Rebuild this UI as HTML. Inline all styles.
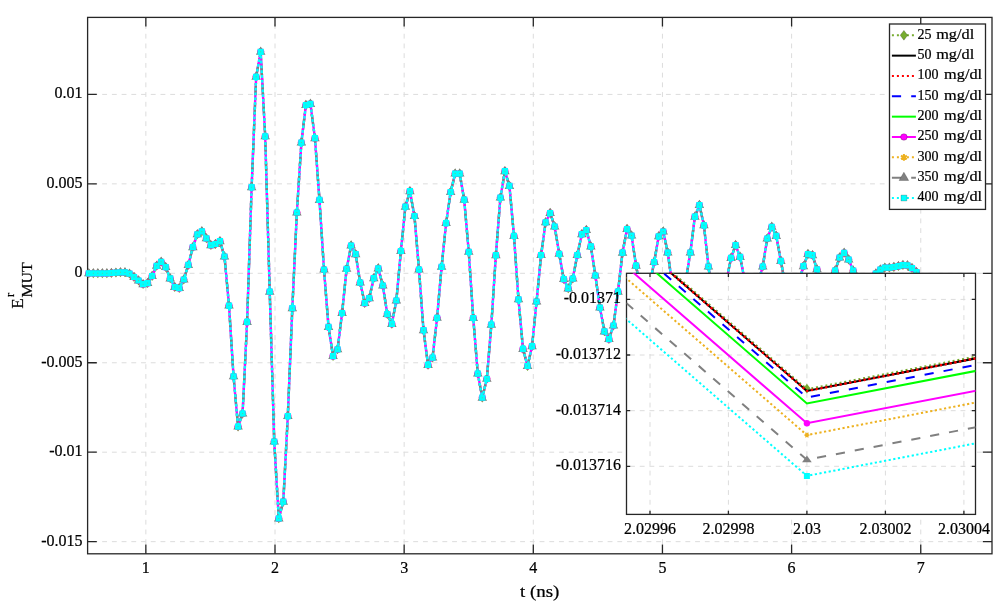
<!DOCTYPE html>
<html><head><meta charset="utf-8"><title>chart</title>
<style>html,body{margin:0;padding:0;background:#fff;}body{width:1006px;height:612px;overflow:hidden;font-family:"Liberation Serif",serif;}svg{display:block;will-change:transform;}</style>
</head><body>
<svg width="1006" height="612" viewBox="0 0 1006 612">
<rect x="0" y="0" width="1006" height="612" fill="#ffffff"/>
<g stroke="#dcdcdc" stroke-width="1" stroke-dasharray="4.86 4.86" fill="none"><line x1="145.85" y1="553.8" x2="145.85" y2="17.4" stroke-dashoffset="0"/><line x1="275" y1="553.8" x2="275" y2="17.4" stroke-dashoffset="0"/><line x1="404.15" y1="553.8" x2="404.15" y2="17.4" stroke-dashoffset="0"/><line x1="533.3" y1="553.8" x2="533.3" y2="17.4" stroke-dashoffset="0"/><line x1="662.45" y1="553.8" x2="662.45" y2="17.4" stroke-dashoffset="0"/><line x1="791.6" y1="553.8" x2="791.6" y2="17.4" stroke-dashoffset="0"/><line x1="920.75" y1="553.8" x2="920.75" y2="17.4" stroke-dashoffset="0"/><line x1="87.6" y1="94.4" x2="992" y2="94.4" stroke-dashoffset="-4.86"/><line x1="87.6" y1="183.85" x2="992" y2="183.85" stroke-dashoffset="-4.86"/><line x1="87.6" y1="273.3" x2="992" y2="273.3" stroke-dashoffset="-4.86"/><line x1="87.6" y1="362.75" x2="992" y2="362.75" stroke-dashoffset="-4.86"/><line x1="87.6" y1="452.2" x2="992" y2="452.2" stroke-dashoffset="-4.86"/><line x1="87.6" y1="541.65" x2="992" y2="541.65" stroke-dashoffset="-4.86"/></g>
<path d="M145.85 553.8v-9.2M145.85 17.4v9.2M275 553.8v-9.2M275 17.4v9.2M404.15 553.8v-9.2M404.15 17.4v9.2M533.3 553.8v-9.2M533.3 17.4v9.2M662.45 553.8v-9.2M662.45 17.4v9.2M791.6 553.8v-9.2M791.6 17.4v9.2M920.75 553.8v-9.2M920.75 17.4v9.2M87.6 94.4h9.2M992 94.4h-9.2M87.6 183.85h9.2M992 183.85h-9.2M87.6 273.3h9.2M992 273.3h-9.2M87.6 362.75h9.2M992 362.75h-9.2M87.6 452.2h9.2M992 452.2h-9.2M87.6 541.65h9.2M992 541.65h-9.2" stroke="#262626" stroke-width="1.3" fill="none"/>
<rect x="87.6" y="17.4" width="904.4" height="536.4" fill="none" stroke="#262626" stroke-width="1.3"/>
<defs><clipPath id="mainclip"><rect x="87.6" y="17.4" width="904.4" height="536.4"/></clipPath></defs>
<polyline clip-path="url(#mainclip)" points="88.8,273.3 93.32,273.3 97.85,273.3 102.37,273.3 106.89,273.3 111.41,273 115.94,272.7 120.46,272.3 124.98,272.4 129.51,273.7 134.03,277 138.55,280.5 143.08,284.2 147.6,283.1 152.12,276 156.64,265.8 161.17,261.8 165.69,267.1 170.21,278.4 174.74,287 179.26,288.1 183.78,279.5 188.31,264.9 192.83,247.2 197.35,234.3 201.88,231.4 206.4,238.3 210.92,245.2 215.44,244 219.97,241.2 224.49,256.5 229.01,305.6 233.54,376.3 238.06,426.6 242.58,413.5 247.1,321.9 251.63,187.2 256.15,76.8 260.67,51.8 265.2,136.3 269.72,291.7 274.24,441.6 278.77,518.4 283.29,501.7 287.81,416.1 292.33,308.2 296.86,212.5 301.38,142.6 305.9,105 310.43,103.9 314.95,138.2 319.47,199.9 324,269.5 328.52,326.9 333.04,356.1 337.56,349.3 342.09,313 346.61,268.8 351.13,245.5 355.66,254.2 360.18,282.6 364.7,303.1 369.23,298.2 373.75,278.2 378.27,268.4 382.8,285.5 387.32,314.1 391.84,323.9 396.36,300.5 400.89,251 405.41,206.7 409.93,191.2 414.46,216 418.98,269.5 423.5,330.2 428.02,364.9 432.55,357.6 437.07,317.8 441.59,266.8 446.12,223.1 450.64,192 455.16,173.6 459.69,173.6 464.21,199.7 468.73,251.8 473.25,318 477.78,373.6 482.3,397.7 486.82,378.8 491.35,324.7 495.87,255.2 500.39,197.6 504.92,171.2 509.44,185.9 513.96,235.9 518.48,299.3 523.01,348.9 527.53,366 532.05,346.2 536.58,301.5 541.1,255 545.62,222.3 550.15,213 554.67,226.5 559.19,253.8 563.71,279.1 568.24,288.4 572.76,278.6 577.28,255.1 581.81,234.2 586.33,230.1 590.85,246.4 595.38,275.5 599.9,307.5 604.42,331.4 608.94,339.1 613.47,325.5 617.99,291.7 622.51,252.7 627.04,229 631.56,235.6 636.08,265.7 640.61,290 645.13,300 649.65,285 654.17,262.1 658.7,236.3 663.22,231.5 667.74,252.5 672.27,285 676.79,305 681.31,300 685.84,280 690.36,252.5 694.88,216.7 699.4,205 703.93,225.3 708.45,266.5 712.97,300 717.5,315 722.02,305 726.54,280 731.07,257.9 735.59,245.1 740.11,256.9 744.63,280 749.16,295 753.68,295 758.2,282 762.73,266.5 767.25,238.5 771.77,226.8 776.3,235.9 780.82,260.9 785.34,285 789.86,300 794.39,295 798.91,282 803.43,266.2 807.96,254.1 812.48,255.2 817,269.3 821.53,285 826.05,290 830.57,283 835.09,270.6 839.62,257.5 844.14,252.9 848.66,259.5 853.19,270.6 857.71,283 862.23,288 866.76,287 871.28,280 875.8,273.6 880.32,269.6 884.85,267.7 889.37,267.7 893.89,267 898.42,266.1 902.94,265.1 907.46,265.4 911.99,268.1 916.51,272.1" fill="none" stroke="#77ac30" stroke-width="2.4" stroke-dasharray="2 3"/>
<path d="M88.8 268.4L92.5 273.3L88.8 278.2L85.1 273.3ZM93.32 268.4L97.02 273.3L93.32 278.2L89.62 273.3ZM97.85 268.4L101.55 273.3L97.85 278.2L94.15 273.3ZM102.37 268.4L106.07 273.3L102.37 278.2L98.67 273.3ZM106.89 268.4L110.59 273.3L106.89 278.2L103.19 273.3ZM111.41 268.1L115.11 273L111.41 277.9L107.71 273ZM115.94 267.8L119.64 272.7L115.94 277.6L112.24 272.7ZM120.46 267.4L124.16 272.3L120.46 277.2L116.76 272.3ZM124.98 267.5L128.68 272.4L124.98 277.3L121.28 272.4ZM129.51 268.8L133.21 273.7L129.51 278.6L125.81 273.7ZM134.03 272.1L137.73 277L134.03 281.9L130.33 277ZM138.55 275.6L142.25 280.5L138.55 285.4L134.85 280.5ZM143.08 279.3L146.78 284.2L143.08 289.1L139.38 284.2ZM147.6 278.2L151.3 283.1L147.6 288L143.9 283.1ZM152.12 271.1L155.82 276L152.12 280.9L148.42 276ZM156.64 260.9L160.34 265.8L156.64 270.7L152.94 265.8ZM161.17 256.9L164.87 261.8L161.17 266.7L157.47 261.8ZM165.69 262.2L169.39 267.1L165.69 272L161.99 267.1ZM170.21 273.5L173.91 278.4L170.21 283.3L166.51 278.4ZM174.74 282.1L178.44 287L174.74 291.9L171.04 287ZM179.26 283.2L182.96 288.1L179.26 293L175.56 288.1ZM183.78 274.6L187.48 279.5L183.78 284.4L180.08 279.5ZM188.31 260L192.01 264.9L188.31 269.8L184.61 264.9ZM192.83 242.3L196.53 247.2L192.83 252.1L189.13 247.2ZM197.35 229.4L201.05 234.3L197.35 239.2L193.65 234.3ZM201.88 226.5L205.57 231.4L201.88 236.3L198.18 231.4ZM206.4 233.4L210.1 238.3L206.4 243.2L202.7 238.3ZM210.92 240.3L214.62 245.2L210.92 250.1L207.22 245.2ZM215.44 239.1L219.14 244L215.44 248.9L211.74 244ZM219.97 236.3L223.67 241.2L219.97 246.1L216.27 241.2ZM224.49 251.6L228.19 256.5L224.49 261.4L220.79 256.5ZM229.01 300.7L232.71 305.6L229.01 310.5L225.31 305.6ZM233.54 371.4L237.24 376.3L233.54 381.2L229.84 376.3ZM238.06 421.7L241.76 426.6L238.06 431.5L234.36 426.6ZM242.58 408.6L246.28 413.5L242.58 418.4L238.88 413.5ZM247.1 317L250.8 321.9L247.1 326.8L243.4 321.9ZM251.63 182.3L255.33 187.2L251.63 192.1L247.93 187.2ZM256.15 71.9L259.85 76.8L256.15 81.7L252.45 76.8ZM260.67 46.9L264.37 51.8L260.67 56.7L256.97 51.8ZM265.2 131.4L268.9 136.3L265.2 141.2L261.5 136.3ZM269.72 286.8L273.42 291.7L269.72 296.6L266.02 291.7ZM274.24 436.7L277.94 441.6L274.24 446.5L270.54 441.6ZM278.77 513.5L282.47 518.4L278.77 523.3L275.07 518.4ZM283.29 496.8L286.99 501.7L283.29 506.6L279.59 501.7ZM287.81 411.2L291.51 416.1L287.81 421L284.11 416.1ZM292.33 303.3L296.03 308.2L292.33 313.1L288.63 308.2ZM296.86 207.6L300.56 212.5L296.86 217.4L293.16 212.5ZM301.38 137.7L305.08 142.6L301.38 147.5L297.68 142.6ZM305.9 100.1L309.6 105L305.9 109.9L302.2 105ZM310.43 99L314.13 103.9L310.43 108.8L306.73 103.9ZM314.95 133.3L318.65 138.2L314.95 143.1L311.25 138.2ZM319.47 195L323.17 199.9L319.47 204.8L315.77 199.9ZM324 264.6L327.7 269.5L324 274.4L320.3 269.5ZM328.52 322L332.22 326.9L328.52 331.8L324.82 326.9ZM333.04 351.2L336.74 356.1L333.04 361L329.34 356.1ZM337.56 344.4L341.26 349.3L337.56 354.2L333.87 349.3ZM342.09 308.1L345.79 313L342.09 317.9L338.39 313ZM346.61 263.9L350.31 268.8L346.61 273.7L342.91 268.8ZM351.13 240.6L354.83 245.5L351.13 250.4L347.43 245.5ZM355.66 249.3L359.36 254.2L355.66 259.1L351.96 254.2ZM360.18 277.7L363.88 282.6L360.18 287.5L356.48 282.6ZM364.7 298.2L368.4 303.1L364.7 308L361 303.1ZM369.23 293.3L372.93 298.2L369.23 303.1L365.53 298.2ZM373.75 273.3L377.45 278.2L373.75 283.1L370.05 278.2ZM378.27 263.5L381.97 268.4L378.27 273.3L374.57 268.4ZM382.8 280.6L386.5 285.5L382.8 290.4L379.1 285.5ZM387.32 309.2L391.02 314.1L387.32 319L383.62 314.1ZM391.84 319L395.54 323.9L391.84 328.8L388.14 323.9ZM396.36 295.6L400.06 300.5L396.36 305.4L392.66 300.5ZM400.89 246.1L404.59 251L400.89 255.9L397.19 251ZM405.41 201.8L409.11 206.7L405.41 211.6L401.71 206.7ZM409.93 186.3L413.63 191.2L409.93 196.1L406.23 191.2ZM414.46 211.1L418.16 216L414.46 220.9L410.76 216ZM418.98 264.6L422.68 269.5L418.98 274.4L415.28 269.5ZM423.5 325.3L427.2 330.2L423.5 335.1L419.8 330.2ZM428.02 360L431.72 364.9L428.02 369.8L424.32 364.9ZM432.55 352.7L436.25 357.6L432.55 362.5L428.85 357.6ZM437.07 312.9L440.77 317.8L437.07 322.7L433.37 317.8ZM441.59 261.9L445.29 266.8L441.59 271.7L437.89 266.8ZM446.12 218.2L449.82 223.1L446.12 228L442.42 223.1ZM450.64 187.1L454.34 192L450.64 196.9L446.94 192ZM455.16 168.7L458.86 173.6L455.16 178.5L451.46 173.6ZM459.69 168.7L463.39 173.6L459.69 178.5L455.99 173.6ZM464.21 194.8L467.91 199.7L464.21 204.6L460.51 199.7ZM468.73 246.9L472.43 251.8L468.73 256.7L465.03 251.8ZM473.25 313.1L476.95 318L473.25 322.9L469.56 318ZM477.78 368.7L481.48 373.6L477.78 378.5L474.08 373.6ZM482.3 392.8L486 397.7L482.3 402.6L478.6 397.7ZM486.82 373.9L490.52 378.8L486.82 383.7L483.12 378.8ZM491.35 319.8L495.05 324.7L491.35 329.6L487.65 324.7ZM495.87 250.3L499.57 255.2L495.87 260.1L492.17 255.2ZM500.39 192.7L504.09 197.6L500.39 202.5L496.69 197.6ZM504.92 166.3L508.62 171.2L504.92 176.1L501.22 171.2ZM509.44 181L513.14 185.9L509.44 190.8L505.74 185.9ZM513.96 231L517.66 235.9L513.96 240.8L510.26 235.9ZM518.48 294.4L522.18 299.3L518.48 304.2L514.78 299.3ZM523.01 344L526.71 348.9L523.01 353.8L519.31 348.9ZM527.53 361.1L531.23 366L527.53 370.9L523.83 366ZM532.05 341.3L535.75 346.2L532.05 351.1L528.35 346.2ZM536.58 296.6L540.28 301.5L536.58 306.4L532.88 301.5ZM541.1 250.1L544.8 255L541.1 259.9L537.4 255ZM545.62 217.4L549.32 222.3L545.62 227.2L541.92 222.3ZM550.15 208.1L553.85 213L550.15 217.9L546.45 213ZM554.67 221.6L558.37 226.5L554.67 231.4L550.97 226.5ZM559.19 248.9L562.89 253.8L559.19 258.7L555.49 253.8ZM563.71 274.2L567.41 279.1L563.71 284L560.01 279.1ZM568.24 283.5L571.94 288.4L568.24 293.3L564.54 288.4ZM572.76 273.7L576.46 278.6L572.76 283.5L569.06 278.6ZM577.28 250.2L580.98 255.1L577.28 260L573.58 255.1ZM581.81 229.3L585.51 234.2L581.81 239.1L578.11 234.2ZM586.33 225.2L590.03 230.1L586.33 235L582.63 230.1ZM590.85 241.5L594.55 246.4L590.85 251.3L587.15 246.4ZM595.38 270.6L599.08 275.5L595.38 280.4L591.68 275.5ZM599.9 302.6L603.6 307.5L599.9 312.4L596.2 307.5ZM604.42 326.5L608.12 331.4L604.42 336.3L600.72 331.4ZM608.94 334.2L612.64 339.1L608.94 344L605.24 339.1ZM613.47 320.6L617.17 325.5L613.47 330.4L609.77 325.5ZM617.99 286.8L621.69 291.7L617.99 296.6L614.29 291.7ZM622.51 247.8L626.21 252.7L622.51 257.6L618.81 252.7ZM627.04 224.1L630.74 229L627.04 233.9L623.34 229ZM631.56 230.7L635.26 235.6L631.56 240.5L627.86 235.6ZM636.08 260.8L639.78 265.7L636.08 270.6L632.38 265.7ZM640.61 285.1L644.31 290L640.61 294.9L636.91 290ZM645.13 295.1L648.83 300L645.13 304.9L641.43 300ZM649.65 280.1L653.35 285L649.65 289.9L645.95 285ZM654.17 257.2L657.88 262.1L654.17 267L650.47 262.1ZM658.7 231.4L662.4 236.3L658.7 241.2L655 236.3ZM663.22 226.6L666.92 231.5L663.22 236.4L659.52 231.5ZM667.74 247.6L671.44 252.5L667.74 257.4L664.04 252.5ZM672.27 280.1L675.97 285L672.27 289.9L668.57 285ZM676.79 300.1L680.49 305L676.79 309.9L673.09 305ZM681.31 295.1L685.01 300L681.31 304.9L677.61 300ZM685.84 275.1L689.54 280L685.84 284.9L682.14 280ZM690.36 247.6L694.06 252.5L690.36 257.4L686.66 252.5ZM694.88 211.8L698.58 216.7L694.88 221.6L691.18 216.7ZM699.4 200.1L703.1 205L699.4 209.9L695.7 205ZM703.93 220.4L707.63 225.3L703.93 230.2L700.23 225.3ZM708.45 261.6L712.15 266.5L708.45 271.4L704.75 266.5ZM712.97 295.1L716.67 300L712.97 304.9L709.27 300ZM717.5 310.1L721.2 315L717.5 319.9L713.8 315ZM722.02 300.1L725.72 305L722.02 309.9L718.32 305ZM726.54 275.1L730.24 280L726.54 284.9L722.84 280ZM731.07 253L734.77 257.9L731.07 262.8L727.37 257.9ZM735.59 240.2L739.29 245.1L735.59 250L731.89 245.1ZM740.11 252L743.81 256.9L740.11 261.8L736.41 256.9ZM744.63 275.1L748.33 280L744.63 284.9L740.93 280ZM749.16 290.1L752.86 295L749.16 299.9L745.46 295ZM753.68 290.1L757.38 295L753.68 299.9L749.98 295ZM758.2 277.1L761.9 282L758.2 286.9L754.5 282ZM762.73 261.6L766.43 266.5L762.73 271.4L759.03 266.5ZM767.25 233.6L770.95 238.5L767.25 243.4L763.55 238.5ZM771.77 221.9L775.47 226.8L771.77 231.7L768.07 226.8ZM776.3 231L780 235.9L776.3 240.8L772.6 235.9ZM780.82 256L784.52 260.9L780.82 265.8L777.12 260.9ZM785.34 280.1L789.04 285L785.34 289.9L781.64 285ZM789.86 295.1L793.56 300L789.86 304.9L786.16 300ZM794.39 290.1L798.09 295L794.39 299.9L790.69 295ZM798.91 277.1L802.61 282L798.91 286.9L795.21 282ZM803.43 261.3L807.13 266.2L803.43 271.1L799.73 266.2ZM807.96 249.2L811.66 254.1L807.96 259L804.26 254.1ZM812.48 250.3L816.18 255.2L812.48 260.1L808.78 255.2ZM817 264.4L820.7 269.3L817 274.2L813.3 269.3ZM821.53 280.1L825.23 285L821.53 289.9L817.83 285ZM826.05 285.1L829.75 290L826.05 294.9L822.35 290ZM830.57 278.1L834.27 283L830.57 287.9L826.87 283ZM835.09 265.7L838.79 270.6L835.09 275.5L831.39 270.6ZM839.62 252.6L843.32 257.5L839.62 262.4L835.92 257.5ZM844.14 248L847.84 252.9L844.14 257.8L840.44 252.9ZM848.66 254.6L852.36 259.5L848.66 264.4L844.96 259.5ZM853.19 265.7L856.89 270.6L853.19 275.5L849.49 270.6ZM857.71 278.1L861.41 283L857.71 287.9L854.01 283ZM862.23 283.1L865.93 288L862.23 292.9L858.53 288ZM866.76 282.1L870.46 287L866.76 291.9L863.06 287ZM871.28 275.1L874.98 280L871.28 284.9L867.58 280ZM875.8 268.7L879.5 273.6L875.8 278.5L872.1 273.6ZM880.32 264.7L884.02 269.6L880.32 274.5L876.62 269.6ZM884.85 262.8L888.55 267.7L884.85 272.6L881.15 267.7ZM889.37 262.8L893.07 267.7L889.37 272.6L885.67 267.7ZM893.89 262.1L897.59 267L893.89 271.9L890.19 267ZM898.42 261.2L902.12 266.1L898.42 271L894.72 266.1ZM902.94 260.2L906.64 265.1L902.94 270L899.24 265.1ZM907.46 260.5L911.16 265.4L907.46 270.3L903.76 265.4ZM911.99 263.2L915.69 268.1L911.99 273L908.29 268.1ZM916.51 267.2L920.21 272.1L916.51 277L912.81 272.1Z" fill="#77ac30"/>
<polyline clip-path="url(#mainclip)" points="88.8,273.3 93.32,273.3 97.85,273.3 102.37,273.3 106.89,273.3 111.41,273 115.94,272.7 120.46,272.3 124.98,272.4 129.51,273.7 134.03,277 138.55,280.5 143.08,284.2 147.6,283.1 152.12,276 156.64,265.8 161.17,261.8 165.69,267.1 170.21,278.4 174.74,287 179.26,288.1 183.78,279.5 188.31,264.9 192.83,247.2 197.35,234.3 201.88,231.4 206.4,238.3 210.92,245.2 215.44,244 219.97,241.2 224.49,256.5 229.01,305.6 233.54,376.3 238.06,426.6 242.58,413.5 247.1,321.9 251.63,187.2 256.15,76.8 260.67,51.8 265.2,136.3 269.72,291.7 274.24,441.6 278.77,518.4 283.29,501.7 287.81,416.1 292.33,308.2 296.86,212.5 301.38,142.6 305.9,105 310.43,103.9 314.95,138.2 319.47,199.9 324,269.5 328.52,326.9 333.04,356.1 337.56,349.3 342.09,313 346.61,268.8 351.13,245.5 355.66,254.2 360.18,282.6 364.7,303.1 369.23,298.2 373.75,278.2 378.27,268.4 382.8,285.5 387.32,314.1 391.84,323.9 396.36,300.5 400.89,251 405.41,206.7 409.93,191.2 414.46,216 418.98,269.5 423.5,330.2 428.02,364.9 432.55,357.6 437.07,317.8 441.59,266.8 446.12,223.1 450.64,192 455.16,173.6 459.69,173.6 464.21,199.7 468.73,251.8 473.25,318 477.78,373.6 482.3,397.7 486.82,378.8 491.35,324.7 495.87,255.2 500.39,197.6 504.92,171.2 509.44,185.9 513.96,235.9 518.48,299.3 523.01,348.9 527.53,366 532.05,346.2 536.58,301.5 541.1,255 545.62,222.3 550.15,213 554.67,226.5 559.19,253.8 563.71,279.1 568.24,288.4 572.76,278.6 577.28,255.1 581.81,234.2 586.33,230.1 590.85,246.4 595.38,275.5 599.9,307.5 604.42,331.4 608.94,339.1 613.47,325.5 617.99,291.7 622.51,252.7 627.04,229 631.56,235.6 636.08,265.7 640.61,290 645.13,300 649.65,285 654.17,262.1 658.7,236.3 663.22,231.5 667.74,252.5 672.27,285 676.79,305 681.31,300 685.84,280 690.36,252.5 694.88,216.7 699.4,205 703.93,225.3 708.45,266.5 712.97,300 717.5,315 722.02,305 726.54,280 731.07,257.9 735.59,245.1 740.11,256.9 744.63,280 749.16,295 753.68,295 758.2,282 762.73,266.5 767.25,238.5 771.77,226.8 776.3,235.9 780.82,260.9 785.34,285 789.86,300 794.39,295 798.91,282 803.43,266.2 807.96,254.1 812.48,255.2 817,269.3 821.53,285 826.05,290 830.57,283 835.09,270.6 839.62,257.5 844.14,252.9 848.66,259.5 853.19,270.6 857.71,283 862.23,288 866.76,287 871.28,280 875.8,273.6 880.32,269.6 884.85,267.7 889.37,267.7 893.89,267 898.42,266.1 902.94,265.1 907.46,265.4 911.99,268.1 916.51,272.1" fill="none" stroke="#ff00ff" stroke-width="2.4" stroke-linejoin="round"/>
<path d="M85.2 273.3a3.6 3.6 0 1 0 7.2 0a3.6 3.6 0 1 0 -7.2 0ZM89.72 273.3a3.6 3.6 0 1 0 7.2 0a3.6 3.6 0 1 0 -7.2 0ZM94.25 273.3a3.6 3.6 0 1 0 7.2 0a3.6 3.6 0 1 0 -7.2 0ZM98.77 273.3a3.6 3.6 0 1 0 7.2 0a3.6 3.6 0 1 0 -7.2 0ZM103.29 273.3a3.6 3.6 0 1 0 7.2 0a3.6 3.6 0 1 0 -7.2 0ZM107.81 273a3.6 3.6 0 1 0 7.2 0a3.6 3.6 0 1 0 -7.2 0ZM112.34 272.7a3.6 3.6 0 1 0 7.2 0a3.6 3.6 0 1 0 -7.2 0ZM116.86 272.3a3.6 3.6 0 1 0 7.2 0a3.6 3.6 0 1 0 -7.2 0ZM121.38 272.4a3.6 3.6 0 1 0 7.2 0a3.6 3.6 0 1 0 -7.2 0ZM125.91 273.7a3.6 3.6 0 1 0 7.2 0a3.6 3.6 0 1 0 -7.2 0ZM130.43 277a3.6 3.6 0 1 0 7.2 0a3.6 3.6 0 1 0 -7.2 0ZM134.95 280.5a3.6 3.6 0 1 0 7.2 0a3.6 3.6 0 1 0 -7.2 0ZM139.48 284.2a3.6 3.6 0 1 0 7.2 0a3.6 3.6 0 1 0 -7.2 0ZM144 283.1a3.6 3.6 0 1 0 7.2 0a3.6 3.6 0 1 0 -7.2 0ZM148.52 276a3.6 3.6 0 1 0 7.2 0a3.6 3.6 0 1 0 -7.2 0ZM153.04 265.8a3.6 3.6 0 1 0 7.2 0a3.6 3.6 0 1 0 -7.2 0ZM157.57 261.8a3.6 3.6 0 1 0 7.2 0a3.6 3.6 0 1 0 -7.2 0ZM162.09 267.1a3.6 3.6 0 1 0 7.2 0a3.6 3.6 0 1 0 -7.2 0ZM166.61 278.4a3.6 3.6 0 1 0 7.2 0a3.6 3.6 0 1 0 -7.2 0ZM171.14 287a3.6 3.6 0 1 0 7.2 0a3.6 3.6 0 1 0 -7.2 0ZM175.66 288.1a3.6 3.6 0 1 0 7.2 0a3.6 3.6 0 1 0 -7.2 0ZM180.18 279.5a3.6 3.6 0 1 0 7.2 0a3.6 3.6 0 1 0 -7.2 0ZM184.71 264.9a3.6 3.6 0 1 0 7.2 0a3.6 3.6 0 1 0 -7.2 0ZM189.23 247.2a3.6 3.6 0 1 0 7.2 0a3.6 3.6 0 1 0 -7.2 0ZM193.75 234.3a3.6 3.6 0 1 0 7.2 0a3.6 3.6 0 1 0 -7.2 0ZM198.28 231.4a3.6 3.6 0 1 0 7.2 0a3.6 3.6 0 1 0 -7.2 0ZM202.8 238.3a3.6 3.6 0 1 0 7.2 0a3.6 3.6 0 1 0 -7.2 0ZM207.32 245.2a3.6 3.6 0 1 0 7.2 0a3.6 3.6 0 1 0 -7.2 0ZM211.84 244a3.6 3.6 0 1 0 7.2 0a3.6 3.6 0 1 0 -7.2 0ZM216.37 241.2a3.6 3.6 0 1 0 7.2 0a3.6 3.6 0 1 0 -7.2 0ZM220.89 256.5a3.6 3.6 0 1 0 7.2 0a3.6 3.6 0 1 0 -7.2 0ZM225.41 305.6a3.6 3.6 0 1 0 7.2 0a3.6 3.6 0 1 0 -7.2 0ZM229.94 376.3a3.6 3.6 0 1 0 7.2 0a3.6 3.6 0 1 0 -7.2 0ZM234.46 426.6a3.6 3.6 0 1 0 7.2 0a3.6 3.6 0 1 0 -7.2 0ZM238.98 413.5a3.6 3.6 0 1 0 7.2 0a3.6 3.6 0 1 0 -7.2 0ZM243.5 321.9a3.6 3.6 0 1 0 7.2 0a3.6 3.6 0 1 0 -7.2 0ZM248.03 187.2a3.6 3.6 0 1 0 7.2 0a3.6 3.6 0 1 0 -7.2 0ZM252.55 76.8a3.6 3.6 0 1 0 7.2 0a3.6 3.6 0 1 0 -7.2 0ZM257.07 51.8a3.6 3.6 0 1 0 7.2 0a3.6 3.6 0 1 0 -7.2 0ZM261.6 136.3a3.6 3.6 0 1 0 7.2 0a3.6 3.6 0 1 0 -7.2 0ZM266.12 291.7a3.6 3.6 0 1 0 7.2 0a3.6 3.6 0 1 0 -7.2 0ZM270.64 441.6a3.6 3.6 0 1 0 7.2 0a3.6 3.6 0 1 0 -7.2 0ZM275.17 518.4a3.6 3.6 0 1 0 7.2 0a3.6 3.6 0 1 0 -7.2 0ZM279.69 501.7a3.6 3.6 0 1 0 7.2 0a3.6 3.6 0 1 0 -7.2 0ZM284.21 416.1a3.6 3.6 0 1 0 7.2 0a3.6 3.6 0 1 0 -7.2 0ZM288.73 308.2a3.6 3.6 0 1 0 7.2 0a3.6 3.6 0 1 0 -7.2 0ZM293.26 212.5a3.6 3.6 0 1 0 7.2 0a3.6 3.6 0 1 0 -7.2 0ZM297.78 142.6a3.6 3.6 0 1 0 7.2 0a3.6 3.6 0 1 0 -7.2 0ZM302.3 105a3.6 3.6 0 1 0 7.2 0a3.6 3.6 0 1 0 -7.2 0ZM306.83 103.9a3.6 3.6 0 1 0 7.2 0a3.6 3.6 0 1 0 -7.2 0ZM311.35 138.2a3.6 3.6 0 1 0 7.2 0a3.6 3.6 0 1 0 -7.2 0ZM315.87 199.9a3.6 3.6 0 1 0 7.2 0a3.6 3.6 0 1 0 -7.2 0ZM320.4 269.5a3.6 3.6 0 1 0 7.2 0a3.6 3.6 0 1 0 -7.2 0ZM324.92 326.9a3.6 3.6 0 1 0 7.2 0a3.6 3.6 0 1 0 -7.2 0ZM329.44 356.1a3.6 3.6 0 1 0 7.2 0a3.6 3.6 0 1 0 -7.2 0ZM333.96 349.3a3.6 3.6 0 1 0 7.2 0a3.6 3.6 0 1 0 -7.2 0ZM338.49 313a3.6 3.6 0 1 0 7.2 0a3.6 3.6 0 1 0 -7.2 0ZM343.01 268.8a3.6 3.6 0 1 0 7.2 0a3.6 3.6 0 1 0 -7.2 0ZM347.53 245.5a3.6 3.6 0 1 0 7.2 0a3.6 3.6 0 1 0 -7.2 0ZM352.06 254.2a3.6 3.6 0 1 0 7.2 0a3.6 3.6 0 1 0 -7.2 0ZM356.58 282.6a3.6 3.6 0 1 0 7.2 0a3.6 3.6 0 1 0 -7.2 0ZM361.1 303.1a3.6 3.6 0 1 0 7.2 0a3.6 3.6 0 1 0 -7.2 0ZM365.63 298.2a3.6 3.6 0 1 0 7.2 0a3.6 3.6 0 1 0 -7.2 0ZM370.15 278.2a3.6 3.6 0 1 0 7.2 0a3.6 3.6 0 1 0 -7.2 0ZM374.67 268.4a3.6 3.6 0 1 0 7.2 0a3.6 3.6 0 1 0 -7.2 0ZM379.19 285.5a3.6 3.6 0 1 0 7.2 0a3.6 3.6 0 1 0 -7.2 0ZM383.72 314.1a3.6 3.6 0 1 0 7.2 0a3.6 3.6 0 1 0 -7.2 0ZM388.24 323.9a3.6 3.6 0 1 0 7.2 0a3.6 3.6 0 1 0 -7.2 0ZM392.76 300.5a3.6 3.6 0 1 0 7.2 0a3.6 3.6 0 1 0 -7.2 0ZM397.29 251a3.6 3.6 0 1 0 7.2 0a3.6 3.6 0 1 0 -7.2 0ZM401.81 206.7a3.6 3.6 0 1 0 7.2 0a3.6 3.6 0 1 0 -7.2 0ZM406.33 191.2a3.6 3.6 0 1 0 7.2 0a3.6 3.6 0 1 0 -7.2 0ZM410.86 216a3.6 3.6 0 1 0 7.2 0a3.6 3.6 0 1 0 -7.2 0ZM415.38 269.5a3.6 3.6 0 1 0 7.2 0a3.6 3.6 0 1 0 -7.2 0ZM419.9 330.2a3.6 3.6 0 1 0 7.2 0a3.6 3.6 0 1 0 -7.2 0ZM424.42 364.9a3.6 3.6 0 1 0 7.2 0a3.6 3.6 0 1 0 -7.2 0ZM428.95 357.6a3.6 3.6 0 1 0 7.2 0a3.6 3.6 0 1 0 -7.2 0ZM433.47 317.8a3.6 3.6 0 1 0 7.2 0a3.6 3.6 0 1 0 -7.2 0ZM437.99 266.8a3.6 3.6 0 1 0 7.2 0a3.6 3.6 0 1 0 -7.2 0ZM442.52 223.1a3.6 3.6 0 1 0 7.2 0a3.6 3.6 0 1 0 -7.2 0ZM447.04 192a3.6 3.6 0 1 0 7.2 0a3.6 3.6 0 1 0 -7.2 0ZM451.56 173.6a3.6 3.6 0 1 0 7.2 0a3.6 3.6 0 1 0 -7.2 0ZM456.09 173.6a3.6 3.6 0 1 0 7.2 0a3.6 3.6 0 1 0 -7.2 0ZM460.61 199.7a3.6 3.6 0 1 0 7.2 0a3.6 3.6 0 1 0 -7.2 0ZM465.13 251.8a3.6 3.6 0 1 0 7.2 0a3.6 3.6 0 1 0 -7.2 0ZM469.65 318a3.6 3.6 0 1 0 7.2 0a3.6 3.6 0 1 0 -7.2 0ZM474.18 373.6a3.6 3.6 0 1 0 7.2 0a3.6 3.6 0 1 0 -7.2 0ZM478.7 397.7a3.6 3.6 0 1 0 7.2 0a3.6 3.6 0 1 0 -7.2 0ZM483.22 378.8a3.6 3.6 0 1 0 7.2 0a3.6 3.6 0 1 0 -7.2 0ZM487.75 324.7a3.6 3.6 0 1 0 7.2 0a3.6 3.6 0 1 0 -7.2 0ZM492.27 255.2a3.6 3.6 0 1 0 7.2 0a3.6 3.6 0 1 0 -7.2 0ZM496.79 197.6a3.6 3.6 0 1 0 7.2 0a3.6 3.6 0 1 0 -7.2 0ZM501.32 171.2a3.6 3.6 0 1 0 7.2 0a3.6 3.6 0 1 0 -7.2 0ZM505.84 185.9a3.6 3.6 0 1 0 7.2 0a3.6 3.6 0 1 0 -7.2 0ZM510.36 235.9a3.6 3.6 0 1 0 7.2 0a3.6 3.6 0 1 0 -7.2 0ZM514.88 299.3a3.6 3.6 0 1 0 7.2 0a3.6 3.6 0 1 0 -7.2 0ZM519.41 348.9a3.6 3.6 0 1 0 7.2 0a3.6 3.6 0 1 0 -7.2 0ZM523.93 366a3.6 3.6 0 1 0 7.2 0a3.6 3.6 0 1 0 -7.2 0ZM528.45 346.2a3.6 3.6 0 1 0 7.2 0a3.6 3.6 0 1 0 -7.2 0ZM532.98 301.5a3.6 3.6 0 1 0 7.2 0a3.6 3.6 0 1 0 -7.2 0ZM537.5 255a3.6 3.6 0 1 0 7.2 0a3.6 3.6 0 1 0 -7.2 0ZM542.02 222.3a3.6 3.6 0 1 0 7.2 0a3.6 3.6 0 1 0 -7.2 0ZM546.55 213a3.6 3.6 0 1 0 7.2 0a3.6 3.6 0 1 0 -7.2 0ZM551.07 226.5a3.6 3.6 0 1 0 7.2 0a3.6 3.6 0 1 0 -7.2 0ZM555.59 253.8a3.6 3.6 0 1 0 7.2 0a3.6 3.6 0 1 0 -7.2 0ZM560.11 279.1a3.6 3.6 0 1 0 7.2 0a3.6 3.6 0 1 0 -7.2 0ZM564.64 288.4a3.6 3.6 0 1 0 7.2 0a3.6 3.6 0 1 0 -7.2 0ZM569.16 278.6a3.6 3.6 0 1 0 7.2 0a3.6 3.6 0 1 0 -7.2 0ZM573.68 255.1a3.6 3.6 0 1 0 7.2 0a3.6 3.6 0 1 0 -7.2 0ZM578.21 234.2a3.6 3.6 0 1 0 7.2 0a3.6 3.6 0 1 0 -7.2 0ZM582.73 230.1a3.6 3.6 0 1 0 7.2 0a3.6 3.6 0 1 0 -7.2 0ZM587.25 246.4a3.6 3.6 0 1 0 7.2 0a3.6 3.6 0 1 0 -7.2 0ZM591.78 275.5a3.6 3.6 0 1 0 7.2 0a3.6 3.6 0 1 0 -7.2 0ZM596.3 307.5a3.6 3.6 0 1 0 7.2 0a3.6 3.6 0 1 0 -7.2 0ZM600.82 331.4a3.6 3.6 0 1 0 7.2 0a3.6 3.6 0 1 0 -7.2 0ZM605.34 339.1a3.6 3.6 0 1 0 7.2 0a3.6 3.6 0 1 0 -7.2 0ZM609.87 325.5a3.6 3.6 0 1 0 7.2 0a3.6 3.6 0 1 0 -7.2 0ZM614.39 291.7a3.6 3.6 0 1 0 7.2 0a3.6 3.6 0 1 0 -7.2 0ZM618.91 252.7a3.6 3.6 0 1 0 7.2 0a3.6 3.6 0 1 0 -7.2 0ZM623.44 229a3.6 3.6 0 1 0 7.2 0a3.6 3.6 0 1 0 -7.2 0ZM627.96 235.6a3.6 3.6 0 1 0 7.2 0a3.6 3.6 0 1 0 -7.2 0ZM632.48 265.7a3.6 3.6 0 1 0 7.2 0a3.6 3.6 0 1 0 -7.2 0ZM637.01 290a3.6 3.6 0 1 0 7.2 0a3.6 3.6 0 1 0 -7.2 0ZM641.53 300a3.6 3.6 0 1 0 7.2 0a3.6 3.6 0 1 0 -7.2 0ZM646.05 285a3.6 3.6 0 1 0 7.2 0a3.6 3.6 0 1 0 -7.2 0ZM650.57 262.1a3.6 3.6 0 1 0 7.2 0a3.6 3.6 0 1 0 -7.2 0ZM655.1 236.3a3.6 3.6 0 1 0 7.2 0a3.6 3.6 0 1 0 -7.2 0ZM659.62 231.5a3.6 3.6 0 1 0 7.2 0a3.6 3.6 0 1 0 -7.2 0ZM664.14 252.5a3.6 3.6 0 1 0 7.2 0a3.6 3.6 0 1 0 -7.2 0ZM668.67 285a3.6 3.6 0 1 0 7.2 0a3.6 3.6 0 1 0 -7.2 0ZM673.19 305a3.6 3.6 0 1 0 7.2 0a3.6 3.6 0 1 0 -7.2 0ZM677.71 300a3.6 3.6 0 1 0 7.2 0a3.6 3.6 0 1 0 -7.2 0ZM682.24 280a3.6 3.6 0 1 0 7.2 0a3.6 3.6 0 1 0 -7.2 0ZM686.76 252.5a3.6 3.6 0 1 0 7.2 0a3.6 3.6 0 1 0 -7.2 0ZM691.28 216.7a3.6 3.6 0 1 0 7.2 0a3.6 3.6 0 1 0 -7.2 0ZM695.8 205a3.6 3.6 0 1 0 7.2 0a3.6 3.6 0 1 0 -7.2 0ZM700.33 225.3a3.6 3.6 0 1 0 7.2 0a3.6 3.6 0 1 0 -7.2 0ZM704.85 266.5a3.6 3.6 0 1 0 7.2 0a3.6 3.6 0 1 0 -7.2 0ZM709.37 300a3.6 3.6 0 1 0 7.2 0a3.6 3.6 0 1 0 -7.2 0ZM713.9 315a3.6 3.6 0 1 0 7.2 0a3.6 3.6 0 1 0 -7.2 0ZM718.42 305a3.6 3.6 0 1 0 7.2 0a3.6 3.6 0 1 0 -7.2 0ZM722.94 280a3.6 3.6 0 1 0 7.2 0a3.6 3.6 0 1 0 -7.2 0ZM727.47 257.9a3.6 3.6 0 1 0 7.2 0a3.6 3.6 0 1 0 -7.2 0ZM731.99 245.1a3.6 3.6 0 1 0 7.2 0a3.6 3.6 0 1 0 -7.2 0ZM736.51 256.9a3.6 3.6 0 1 0 7.2 0a3.6 3.6 0 1 0 -7.2 0ZM741.03 280a3.6 3.6 0 1 0 7.2 0a3.6 3.6 0 1 0 -7.2 0ZM745.56 295a3.6 3.6 0 1 0 7.2 0a3.6 3.6 0 1 0 -7.2 0ZM750.08 295a3.6 3.6 0 1 0 7.2 0a3.6 3.6 0 1 0 -7.2 0ZM754.6 282a3.6 3.6 0 1 0 7.2 0a3.6 3.6 0 1 0 -7.2 0ZM759.13 266.5a3.6 3.6 0 1 0 7.2 0a3.6 3.6 0 1 0 -7.2 0ZM763.65 238.5a3.6 3.6 0 1 0 7.2 0a3.6 3.6 0 1 0 -7.2 0ZM768.17 226.8a3.6 3.6 0 1 0 7.2 0a3.6 3.6 0 1 0 -7.2 0ZM772.7 235.9a3.6 3.6 0 1 0 7.2 0a3.6 3.6 0 1 0 -7.2 0ZM777.22 260.9a3.6 3.6 0 1 0 7.2 0a3.6 3.6 0 1 0 -7.2 0ZM781.74 285a3.6 3.6 0 1 0 7.2 0a3.6 3.6 0 1 0 -7.2 0ZM786.26 300a3.6 3.6 0 1 0 7.2 0a3.6 3.6 0 1 0 -7.2 0ZM790.79 295a3.6 3.6 0 1 0 7.2 0a3.6 3.6 0 1 0 -7.2 0ZM795.31 282a3.6 3.6 0 1 0 7.2 0a3.6 3.6 0 1 0 -7.2 0ZM799.83 266.2a3.6 3.6 0 1 0 7.2 0a3.6 3.6 0 1 0 -7.2 0ZM804.36 254.1a3.6 3.6 0 1 0 7.2 0a3.6 3.6 0 1 0 -7.2 0ZM808.88 255.2a3.6 3.6 0 1 0 7.2 0a3.6 3.6 0 1 0 -7.2 0ZM813.4 269.3a3.6 3.6 0 1 0 7.2 0a3.6 3.6 0 1 0 -7.2 0ZM817.93 285a3.6 3.6 0 1 0 7.2 0a3.6 3.6 0 1 0 -7.2 0ZM822.45 290a3.6 3.6 0 1 0 7.2 0a3.6 3.6 0 1 0 -7.2 0ZM826.97 283a3.6 3.6 0 1 0 7.2 0a3.6 3.6 0 1 0 -7.2 0ZM831.49 270.6a3.6 3.6 0 1 0 7.2 0a3.6 3.6 0 1 0 -7.2 0ZM836.02 257.5a3.6 3.6 0 1 0 7.2 0a3.6 3.6 0 1 0 -7.2 0ZM840.54 252.9a3.6 3.6 0 1 0 7.2 0a3.6 3.6 0 1 0 -7.2 0ZM845.06 259.5a3.6 3.6 0 1 0 7.2 0a3.6 3.6 0 1 0 -7.2 0ZM849.59 270.6a3.6 3.6 0 1 0 7.2 0a3.6 3.6 0 1 0 -7.2 0ZM854.11 283a3.6 3.6 0 1 0 7.2 0a3.6 3.6 0 1 0 -7.2 0ZM858.63 288a3.6 3.6 0 1 0 7.2 0a3.6 3.6 0 1 0 -7.2 0ZM863.16 287a3.6 3.6 0 1 0 7.2 0a3.6 3.6 0 1 0 -7.2 0ZM867.68 280a3.6 3.6 0 1 0 7.2 0a3.6 3.6 0 1 0 -7.2 0ZM872.2 273.6a3.6 3.6 0 1 0 7.2 0a3.6 3.6 0 1 0 -7.2 0ZM876.72 269.6a3.6 3.6 0 1 0 7.2 0a3.6 3.6 0 1 0 -7.2 0ZM881.25 267.7a3.6 3.6 0 1 0 7.2 0a3.6 3.6 0 1 0 -7.2 0ZM885.77 267.7a3.6 3.6 0 1 0 7.2 0a3.6 3.6 0 1 0 -7.2 0ZM890.29 267a3.6 3.6 0 1 0 7.2 0a3.6 3.6 0 1 0 -7.2 0ZM894.82 266.1a3.6 3.6 0 1 0 7.2 0a3.6 3.6 0 1 0 -7.2 0ZM899.34 265.1a3.6 3.6 0 1 0 7.2 0a3.6 3.6 0 1 0 -7.2 0ZM903.86 265.4a3.6 3.6 0 1 0 7.2 0a3.6 3.6 0 1 0 -7.2 0ZM908.39 268.1a3.6 3.6 0 1 0 7.2 0a3.6 3.6 0 1 0 -7.2 0ZM912.91 272.1a3.6 3.6 0 1 0 7.2 0a3.6 3.6 0 1 0 -7.2 0Z" fill="#ff00ff"/>
<polyline clip-path="url(#mainclip)" points="88.8,273.3 93.32,273.3 97.85,273.3 102.37,273.3 106.89,273.3 111.41,273 115.94,272.7 120.46,272.3 124.98,272.4 129.51,273.7 134.03,277 138.55,280.5 143.08,284.2 147.6,283.1 152.12,276 156.64,265.8 161.17,261.8 165.69,267.1 170.21,278.4 174.74,287 179.26,288.1 183.78,279.5 188.31,264.9 192.83,247.2 197.35,234.3 201.88,231.4 206.4,238.3 210.92,245.2 215.44,244 219.97,241.2 224.49,256.5 229.01,305.6 233.54,376.3 238.06,426.6 242.58,413.5 247.1,321.9 251.63,187.2 256.15,76.8 260.67,51.8 265.2,136.3 269.72,291.7 274.24,441.6 278.77,518.4 283.29,501.7 287.81,416.1 292.33,308.2 296.86,212.5 301.38,142.6 305.9,105 310.43,103.9 314.95,138.2 319.47,199.9 324,269.5 328.52,326.9 333.04,356.1 337.56,349.3 342.09,313 346.61,268.8 351.13,245.5 355.66,254.2 360.18,282.6 364.7,303.1 369.23,298.2 373.75,278.2 378.27,268.4 382.8,285.5 387.32,314.1 391.84,323.9 396.36,300.5 400.89,251 405.41,206.7 409.93,191.2 414.46,216 418.98,269.5 423.5,330.2 428.02,364.9 432.55,357.6 437.07,317.8 441.59,266.8 446.12,223.1 450.64,192 455.16,173.6 459.69,173.6 464.21,199.7 468.73,251.8 473.25,318 477.78,373.6 482.3,397.7 486.82,378.8 491.35,324.7 495.87,255.2 500.39,197.6 504.92,171.2 509.44,185.9 513.96,235.9 518.48,299.3 523.01,348.9 527.53,366 532.05,346.2 536.58,301.5 541.1,255 545.62,222.3 550.15,213 554.67,226.5 559.19,253.8 563.71,279.1 568.24,288.4 572.76,278.6 577.28,255.1 581.81,234.2 586.33,230.1 590.85,246.4 595.38,275.5 599.9,307.5 604.42,331.4 608.94,339.1 613.47,325.5 617.99,291.7 622.51,252.7 627.04,229 631.56,235.6 636.08,265.7 640.61,290 645.13,300 649.65,285 654.17,262.1 658.7,236.3 663.22,231.5 667.74,252.5 672.27,285 676.79,305 681.31,300 685.84,280 690.36,252.5 694.88,216.7 699.4,205 703.93,225.3 708.45,266.5 712.97,300 717.5,315 722.02,305 726.54,280 731.07,257.9 735.59,245.1 740.11,256.9 744.63,280 749.16,295 753.68,295 758.2,282 762.73,266.5 767.25,238.5 771.77,226.8 776.3,235.9 780.82,260.9 785.34,285 789.86,300 794.39,295 798.91,282 803.43,266.2 807.96,254.1 812.48,255.2 817,269.3 821.53,285 826.05,290 830.57,283 835.09,270.6 839.62,257.5 844.14,252.9 848.66,259.5 853.19,270.6 857.71,283 862.23,288 866.76,287 871.28,280 875.8,273.6 880.32,269.6 884.85,267.7 889.37,267.7 893.89,267 898.42,266.1 902.94,265.1 907.46,265.4 911.99,268.1 916.51,272.1" fill="none" stroke="#808080" stroke-width="2.4" stroke-dasharray="9.6 9.6"/>
<path d="M88.8 268L93.6 276.3L84 276.3ZM93.32 268L98.12 276.3L88.52 276.3ZM97.85 268L102.65 276.3L93.05 276.3ZM102.37 268L107.17 276.3L97.57 276.3ZM106.89 268L111.69 276.3L102.09 276.3ZM111.41 267.7L116.21 276L106.61 276ZM115.94 267.4L120.74 275.7L111.14 275.7ZM120.46 267L125.26 275.3L115.66 275.3ZM124.98 267.1L129.78 275.4L120.18 275.4ZM129.51 268.4L134.31 276.7L124.71 276.7ZM134.03 271.7L138.83 280L129.23 280ZM138.55 275.2L143.35 283.5L133.75 283.5ZM143.08 278.9L147.88 287.2L138.28 287.2ZM147.6 277.8L152.4 286.1L142.8 286.1ZM152.12 270.7L156.92 279L147.32 279ZM156.64 260.5L161.44 268.8L151.84 268.8ZM161.17 256.5L165.97 264.8L156.37 264.8ZM165.69 261.8L170.49 270.1L160.89 270.1ZM170.21 273.1L175.01 281.4L165.41 281.4ZM174.74 281.7L179.54 290L169.94 290ZM179.26 282.8L184.06 291.1L174.46 291.1ZM183.78 274.2L188.58 282.5L178.98 282.5ZM188.31 259.6L193.11 267.9L183.51 267.9ZM192.83 241.9L197.63 250.2L188.03 250.2ZM197.35 229L202.15 237.3L192.55 237.3ZM201.88 226.1L206.68 234.4L197.07 234.4ZM206.4 233L211.2 241.3L201.6 241.3ZM210.92 239.9L215.72 248.2L206.12 248.2ZM215.44 238.7L220.24 247L210.64 247ZM219.97 235.9L224.77 244.2L215.17 244.2ZM224.49 251.2L229.29 259.5L219.69 259.5ZM229.01 300.3L233.81 308.6L224.21 308.6ZM233.54 371L238.34 379.3L228.74 379.3ZM238.06 421.3L242.86 429.6L233.26 429.6ZM242.58 408.2L247.38 416.5L237.78 416.5ZM247.1 316.6L251.9 324.9L242.3 324.9ZM251.63 181.9L256.43 190.2L246.83 190.2ZM256.15 71.5L260.95 79.8L251.35 79.8ZM260.67 46.5L265.47 54.8L255.87 54.8ZM265.2 131L270 139.3L260.4 139.3ZM269.72 286.4L274.52 294.7L264.92 294.7ZM274.24 436.3L279.04 444.6L269.44 444.6ZM278.77 513.1L283.57 521.4L273.97 521.4ZM283.29 496.4L288.09 504.7L278.49 504.7ZM287.81 410.8L292.61 419.1L283.01 419.1ZM292.33 302.9L297.13 311.2L287.53 311.2ZM296.86 207.2L301.66 215.5L292.06 215.5ZM301.38 137.3L306.18 145.6L296.58 145.6ZM305.9 99.7L310.7 108L301.1 108ZM310.43 98.6L315.23 106.9L305.63 106.9ZM314.95 132.9L319.75 141.2L310.15 141.2ZM319.47 194.6L324.27 202.9L314.67 202.9ZM324 264.2L328.8 272.5L319.2 272.5ZM328.52 321.6L333.32 329.9L323.72 329.9ZM333.04 350.8L337.84 359.1L328.24 359.1ZM337.56 344L342.37 352.3L332.76 352.3ZM342.09 307.7L346.89 316L337.29 316ZM346.61 263.5L351.41 271.8L341.81 271.8ZM351.13 240.2L355.93 248.5L346.33 248.5ZM355.66 248.9L360.46 257.2L350.86 257.2ZM360.18 277.3L364.98 285.6L355.38 285.6ZM364.7 297.8L369.5 306.1L359.9 306.1ZM369.23 292.9L374.03 301.2L364.43 301.2ZM373.75 272.9L378.55 281.2L368.95 281.2ZM378.27 263.1L383.07 271.4L373.47 271.4ZM382.8 280.2L387.6 288.5L378 288.5ZM387.32 308.8L392.12 317.1L382.52 317.1ZM391.84 318.6L396.64 326.9L387.04 326.9ZM396.36 295.2L401.16 303.5L391.56 303.5ZM400.89 245.7L405.69 254L396.09 254ZM405.41 201.4L410.21 209.7L400.61 209.7ZM409.93 185.9L414.73 194.2L405.13 194.2ZM414.46 210.7L419.26 219L409.66 219ZM418.98 264.2L423.78 272.5L414.18 272.5ZM423.5 324.9L428.3 333.2L418.7 333.2ZM428.02 359.6L432.82 367.9L423.22 367.9ZM432.55 352.3L437.35 360.6L427.75 360.6ZM437.07 312.5L441.87 320.8L432.27 320.8ZM441.59 261.5L446.39 269.8L436.79 269.8ZM446.12 217.8L450.92 226.1L441.32 226.1ZM450.64 186.7L455.44 195L445.84 195ZM455.16 168.3L459.96 176.6L450.36 176.6ZM459.69 168.3L464.49 176.6L454.89 176.6ZM464.21 194.4L469.01 202.7L459.41 202.7ZM468.73 246.5L473.53 254.8L463.93 254.8ZM473.25 312.7L478.06 321L468.45 321ZM477.78 368.3L482.58 376.6L472.98 376.6ZM482.3 392.4L487.1 400.7L477.5 400.7ZM486.82 373.5L491.62 381.8L482.02 381.8ZM491.35 319.4L496.15 327.7L486.55 327.7ZM495.87 249.9L500.67 258.2L491.07 258.2ZM500.39 192.3L505.19 200.6L495.59 200.6ZM504.92 165.9L509.72 174.2L500.12 174.2ZM509.44 180.6L514.24 188.9L504.64 188.9ZM513.96 230.6L518.76 238.9L509.16 238.9ZM518.48 294L523.28 302.3L513.68 302.3ZM523.01 343.6L527.81 351.9L518.21 351.9ZM527.53 360.7L532.33 369L522.73 369ZM532.05 340.9L536.85 349.2L527.25 349.2ZM536.58 296.2L541.38 304.5L531.78 304.5ZM541.1 249.7L545.9 258L536.3 258ZM545.62 217L550.42 225.3L540.82 225.3ZM550.15 207.7L554.95 216L545.35 216ZM554.67 221.2L559.47 229.5L549.87 229.5ZM559.19 248.5L563.99 256.8L554.39 256.8ZM563.71 273.8L568.51 282.1L558.91 282.1ZM568.24 283.1L573.04 291.4L563.44 291.4ZM572.76 273.3L577.56 281.6L567.96 281.6ZM577.28 249.8L582.08 258.1L572.48 258.1ZM581.81 228.9L586.61 237.2L577.01 237.2ZM586.33 224.8L591.13 233.1L581.53 233.1ZM590.85 241.1L595.65 249.4L586.05 249.4ZM595.38 270.2L600.18 278.5L590.58 278.5ZM599.9 302.2L604.7 310.5L595.1 310.5ZM604.42 326.1L609.22 334.4L599.62 334.4ZM608.94 333.8L613.74 342.1L604.14 342.1ZM613.47 320.2L618.27 328.5L608.67 328.5ZM617.99 286.4L622.79 294.7L613.19 294.7ZM622.51 247.4L627.31 255.7L617.71 255.7ZM627.04 223.7L631.84 232L622.24 232ZM631.56 230.3L636.36 238.6L626.76 238.6ZM636.08 260.4L640.88 268.7L631.28 268.7ZM640.61 284.7L645.41 293L635.81 293ZM645.13 294.7L649.93 303L640.33 303ZM649.65 279.7L654.45 288L644.85 288ZM654.17 256.8L658.97 265.1L649.38 265.1ZM658.7 231L663.5 239.3L653.9 239.3ZM663.22 226.2L668.02 234.5L658.42 234.5ZM667.74 247.2L672.54 255.5L662.94 255.5ZM672.27 279.7L677.07 288L667.47 288ZM676.79 299.7L681.59 308L671.99 308ZM681.31 294.7L686.11 303L676.51 303ZM685.84 274.7L690.64 283L681.04 283ZM690.36 247.2L695.16 255.5L685.56 255.5ZM694.88 211.4L699.68 219.7L690.08 219.7ZM699.4 199.7L704.2 208L694.6 208ZM703.93 220L708.73 228.3L699.13 228.3ZM708.45 261.2L713.25 269.5L703.65 269.5ZM712.97 294.7L717.77 303L708.17 303ZM717.5 309.7L722.3 318L712.7 318ZM722.02 299.7L726.82 308L717.22 308ZM726.54 274.7L731.34 283L721.74 283ZM731.07 252.6L735.87 260.9L726.27 260.9ZM735.59 239.8L740.39 248.1L730.79 248.1ZM740.11 251.6L744.91 259.9L735.31 259.9ZM744.63 274.7L749.43 283L739.83 283ZM749.16 289.7L753.96 298L744.36 298ZM753.68 289.7L758.48 298L748.88 298ZM758.2 276.7L763 285L753.4 285ZM762.73 261.2L767.53 269.5L757.93 269.5ZM767.25 233.2L772.05 241.5L762.45 241.5ZM771.77 221.5L776.57 229.8L766.97 229.8ZM776.3 230.6L781.1 238.9L771.5 238.9ZM780.82 255.6L785.62 263.9L776.02 263.9ZM785.34 279.7L790.14 288L780.54 288ZM789.86 294.7L794.66 303L785.06 303ZM794.39 289.7L799.19 298L789.59 298ZM798.91 276.7L803.71 285L794.11 285ZM803.43 260.9L808.23 269.2L798.63 269.2ZM807.96 248.8L812.76 257.1L803.16 257.1ZM812.48 249.9L817.28 258.2L807.68 258.2ZM817 264L821.8 272.3L812.2 272.3ZM821.53 279.7L826.33 288L816.73 288ZM826.05 284.7L830.85 293L821.25 293ZM830.57 277.7L835.37 286L825.77 286ZM835.09 265.3L839.89 273.6L830.29 273.6ZM839.62 252.2L844.42 260.5L834.82 260.5ZM844.14 247.6L848.94 255.9L839.34 255.9ZM848.66 254.2L853.46 262.5L843.86 262.5ZM853.19 265.3L857.99 273.6L848.39 273.6ZM857.71 277.7L862.51 286L852.91 286ZM862.23 282.7L867.03 291L857.43 291ZM866.76 281.7L871.56 290L861.96 290ZM871.28 274.7L876.08 283L866.48 283ZM875.8 268.3L880.6 276.6L871 276.6ZM880.32 264.3L885.12 272.6L875.52 272.6ZM884.85 262.4L889.65 270.7L880.05 270.7ZM889.37 262.4L894.17 270.7L884.57 270.7ZM893.89 261.7L898.69 270L889.09 270ZM898.42 260.8L903.22 269.1L893.62 269.1ZM902.94 259.8L907.74 268.1L898.14 268.1ZM907.46 260.1L912.26 268.4L902.66 268.4ZM911.99 262.8L916.79 271.1L907.19 271.1ZM916.51 266.8L921.31 275.1L911.71 275.1Z" fill="#808080"/>
<polyline clip-path="url(#mainclip)" points="88.8,273.3 93.32,273.3 97.85,273.3 102.37,273.3 106.89,273.3 111.41,273 115.94,272.7 120.46,272.3 124.98,272.4 129.51,273.7 134.03,277 138.55,280.5 143.08,284.2 147.6,283.1 152.12,276 156.64,265.8 161.17,261.8 165.69,267.1 170.21,278.4 174.74,287 179.26,288.1 183.78,279.5 188.31,264.9 192.83,247.2 197.35,234.3 201.88,231.4 206.4,238.3 210.92,245.2 215.44,244 219.97,241.2 224.49,256.5 229.01,305.6 233.54,376.3 238.06,426.6 242.58,413.5 247.1,321.9 251.63,187.2 256.15,76.8 260.67,51.8 265.2,136.3 269.72,291.7 274.24,441.6 278.77,518.4 283.29,501.7 287.81,416.1 292.33,308.2 296.86,212.5 301.38,142.6 305.9,105 310.43,103.9 314.95,138.2 319.47,199.9 324,269.5 328.52,326.9 333.04,356.1 337.56,349.3 342.09,313 346.61,268.8 351.13,245.5 355.66,254.2 360.18,282.6 364.7,303.1 369.23,298.2 373.75,278.2 378.27,268.4 382.8,285.5 387.32,314.1 391.84,323.9 396.36,300.5 400.89,251 405.41,206.7 409.93,191.2 414.46,216 418.98,269.5 423.5,330.2 428.02,364.9 432.55,357.6 437.07,317.8 441.59,266.8 446.12,223.1 450.64,192 455.16,173.6 459.69,173.6 464.21,199.7 468.73,251.8 473.25,318 477.78,373.6 482.3,397.7 486.82,378.8 491.35,324.7 495.87,255.2 500.39,197.6 504.92,171.2 509.44,185.9 513.96,235.9 518.48,299.3 523.01,348.9 527.53,366 532.05,346.2 536.58,301.5 541.1,255 545.62,222.3 550.15,213 554.67,226.5 559.19,253.8 563.71,279.1 568.24,288.4 572.76,278.6 577.28,255.1 581.81,234.2 586.33,230.1 590.85,246.4 595.38,275.5 599.9,307.5 604.42,331.4 608.94,339.1 613.47,325.5 617.99,291.7 622.51,252.7 627.04,229 631.56,235.6 636.08,265.7 640.61,290 645.13,300 649.65,285 654.17,262.1 658.7,236.3 663.22,231.5 667.74,252.5 672.27,285 676.79,305 681.31,300 685.84,280 690.36,252.5 694.88,216.7 699.4,205 703.93,225.3 708.45,266.5 712.97,300 717.5,315 722.02,305 726.54,280 731.07,257.9 735.59,245.1 740.11,256.9 744.63,280 749.16,295 753.68,295 758.2,282 762.73,266.5 767.25,238.5 771.77,226.8 776.3,235.9 780.82,260.9 785.34,285 789.86,300 794.39,295 798.91,282 803.43,266.2 807.96,254.1 812.48,255.2 817,269.3 821.53,285 826.05,290 830.57,283 835.09,270.6 839.62,257.5 844.14,252.9 848.66,259.5 853.19,270.6 857.71,283 862.23,288 866.76,287 871.28,280 875.8,273.6 880.32,269.6 884.85,267.7 889.37,267.7 893.89,267 898.42,266.1 902.94,265.1 907.46,265.4 911.99,268.1 916.51,272.1" fill="none" stroke="#00ffff" stroke-width="2.4" stroke-dasharray="2.8 2.0"/>
<path d="M85.7 270.2h6.2v6.2h-6.2ZM90.22 270.2h6.2v6.2h-6.2ZM94.75 270.2h6.2v6.2h-6.2ZM99.27 270.2h6.2v6.2h-6.2ZM103.79 270.2h6.2v6.2h-6.2ZM108.31 269.9h6.2v6.2h-6.2ZM112.84 269.6h6.2v6.2h-6.2ZM117.36 269.2h6.2v6.2h-6.2ZM121.88 269.3h6.2v6.2h-6.2ZM126.41 270.6h6.2v6.2h-6.2ZM130.93 273.9h6.2v6.2h-6.2ZM135.45 277.4h6.2v6.2h-6.2ZM139.98 281.1h6.2v6.2h-6.2ZM144.5 280h6.2v6.2h-6.2ZM149.02 272.9h6.2v6.2h-6.2ZM153.54 262.7h6.2v6.2h-6.2ZM158.07 258.7h6.2v6.2h-6.2ZM162.59 264h6.2v6.2h-6.2ZM167.11 275.3h6.2v6.2h-6.2ZM171.64 283.9h6.2v6.2h-6.2ZM176.16 285h6.2v6.2h-6.2ZM180.68 276.4h6.2v6.2h-6.2ZM185.21 261.8h6.2v6.2h-6.2ZM189.73 244.1h6.2v6.2h-6.2ZM194.25 231.2h6.2v6.2h-6.2ZM198.78 228.3h6.2v6.2h-6.2ZM203.3 235.2h6.2v6.2h-6.2ZM207.82 242.1h6.2v6.2h-6.2ZM212.34 240.9h6.2v6.2h-6.2ZM216.87 238.1h6.2v6.2h-6.2ZM221.39 253.4h6.2v6.2h-6.2ZM225.91 302.5h6.2v6.2h-6.2ZM230.44 373.2h6.2v6.2h-6.2ZM234.96 423.5h6.2v6.2h-6.2ZM239.48 410.4h6.2v6.2h-6.2ZM244 318.8h6.2v6.2h-6.2ZM248.53 184.1h6.2v6.2h-6.2ZM253.05 73.7h6.2v6.2h-6.2ZM257.57 48.7h6.2v6.2h-6.2ZM262.1 133.2h6.2v6.2h-6.2ZM266.62 288.6h6.2v6.2h-6.2ZM271.14 438.5h6.2v6.2h-6.2ZM275.67 515.3h6.2v6.2h-6.2ZM280.19 498.6h6.2v6.2h-6.2ZM284.71 413h6.2v6.2h-6.2ZM289.23 305.1h6.2v6.2h-6.2ZM293.76 209.4h6.2v6.2h-6.2ZM298.28 139.5h6.2v6.2h-6.2ZM302.8 101.9h6.2v6.2h-6.2ZM307.33 100.8h6.2v6.2h-6.2ZM311.85 135.1h6.2v6.2h-6.2ZM316.37 196.8h6.2v6.2h-6.2ZM320.9 266.4h6.2v6.2h-6.2ZM325.42 323.8h6.2v6.2h-6.2ZM329.94 353h6.2v6.2h-6.2ZM334.46 346.2h6.2v6.2h-6.2ZM338.99 309.9h6.2v6.2h-6.2ZM343.51 265.7h6.2v6.2h-6.2ZM348.03 242.4h6.2v6.2h-6.2ZM352.56 251.1h6.2v6.2h-6.2ZM357.08 279.5h6.2v6.2h-6.2ZM361.6 300h6.2v6.2h-6.2ZM366.13 295.1h6.2v6.2h-6.2ZM370.65 275.1h6.2v6.2h-6.2ZM375.17 265.3h6.2v6.2h-6.2ZM379.69 282.4h6.2v6.2h-6.2ZM384.22 311h6.2v6.2h-6.2ZM388.74 320.8h6.2v6.2h-6.2ZM393.26 297.4h6.2v6.2h-6.2ZM397.79 247.9h6.2v6.2h-6.2ZM402.31 203.6h6.2v6.2h-6.2ZM406.83 188.1h6.2v6.2h-6.2ZM411.36 212.9h6.2v6.2h-6.2ZM415.88 266.4h6.2v6.2h-6.2ZM420.4 327.1h6.2v6.2h-6.2ZM424.92 361.8h6.2v6.2h-6.2ZM429.45 354.5h6.2v6.2h-6.2ZM433.97 314.7h6.2v6.2h-6.2ZM438.49 263.7h6.2v6.2h-6.2ZM443.02 220h6.2v6.2h-6.2ZM447.54 188.9h6.2v6.2h-6.2ZM452.06 170.5h6.2v6.2h-6.2ZM456.59 170.5h6.2v6.2h-6.2ZM461.11 196.6h6.2v6.2h-6.2ZM465.63 248.7h6.2v6.2h-6.2ZM470.15 314.9h6.2v6.2h-6.2ZM474.68 370.5h6.2v6.2h-6.2ZM479.2 394.6h6.2v6.2h-6.2ZM483.72 375.7h6.2v6.2h-6.2ZM488.25 321.6h6.2v6.2h-6.2ZM492.77 252.1h6.2v6.2h-6.2ZM497.29 194.5h6.2v6.2h-6.2ZM501.82 168.1h6.2v6.2h-6.2ZM506.34 182.8h6.2v6.2h-6.2ZM510.86 232.8h6.2v6.2h-6.2ZM515.38 296.2h6.2v6.2h-6.2ZM519.91 345.8h6.2v6.2h-6.2ZM524.43 362.9h6.2v6.2h-6.2ZM528.95 343.1h6.2v6.2h-6.2ZM533.48 298.4h6.2v6.2h-6.2ZM538 251.9h6.2v6.2h-6.2ZM542.52 219.2h6.2v6.2h-6.2ZM547.05 209.9h6.2v6.2h-6.2ZM551.57 223.4h6.2v6.2h-6.2ZM556.09 250.7h6.2v6.2h-6.2ZM560.61 276h6.2v6.2h-6.2ZM565.14 285.3h6.2v6.2h-6.2ZM569.66 275.5h6.2v6.2h-6.2ZM574.18 252h6.2v6.2h-6.2ZM578.71 231.1h6.2v6.2h-6.2ZM583.23 227h6.2v6.2h-6.2ZM587.75 243.3h6.2v6.2h-6.2ZM592.28 272.4h6.2v6.2h-6.2ZM596.8 304.4h6.2v6.2h-6.2ZM601.32 328.3h6.2v6.2h-6.2ZM605.84 336h6.2v6.2h-6.2ZM610.37 322.4h6.2v6.2h-6.2ZM614.89 288.6h6.2v6.2h-6.2ZM619.41 249.6h6.2v6.2h-6.2ZM623.94 225.9h6.2v6.2h-6.2ZM628.46 232.5h6.2v6.2h-6.2ZM632.98 262.6h6.2v6.2h-6.2ZM637.51 286.9h6.2v6.2h-6.2ZM642.03 296.9h6.2v6.2h-6.2ZM646.55 281.9h6.2v6.2h-6.2ZM651.07 259h6.2v6.2h-6.2ZM655.6 233.2h6.2v6.2h-6.2ZM660.12 228.4h6.2v6.2h-6.2ZM664.64 249.4h6.2v6.2h-6.2ZM669.17 281.9h6.2v6.2h-6.2ZM673.69 301.9h6.2v6.2h-6.2ZM678.21 296.9h6.2v6.2h-6.2ZM682.74 276.9h6.2v6.2h-6.2ZM687.26 249.4h6.2v6.2h-6.2ZM691.78 213.6h6.2v6.2h-6.2ZM696.3 201.9h6.2v6.2h-6.2ZM700.83 222.2h6.2v6.2h-6.2ZM705.35 263.4h6.2v6.2h-6.2ZM709.87 296.9h6.2v6.2h-6.2ZM714.4 311.9h6.2v6.2h-6.2ZM718.92 301.9h6.2v6.2h-6.2ZM723.44 276.9h6.2v6.2h-6.2ZM727.97 254.8h6.2v6.2h-6.2ZM732.49 242h6.2v6.2h-6.2ZM737.01 253.8h6.2v6.2h-6.2ZM741.53 276.9h6.2v6.2h-6.2ZM746.06 291.9h6.2v6.2h-6.2ZM750.58 291.9h6.2v6.2h-6.2ZM755.1 278.9h6.2v6.2h-6.2ZM759.63 263.4h6.2v6.2h-6.2ZM764.15 235.4h6.2v6.2h-6.2ZM768.67 223.7h6.2v6.2h-6.2ZM773.2 232.8h6.2v6.2h-6.2ZM777.72 257.8h6.2v6.2h-6.2ZM782.24 281.9h6.2v6.2h-6.2ZM786.76 296.9h6.2v6.2h-6.2ZM791.29 291.9h6.2v6.2h-6.2ZM795.81 278.9h6.2v6.2h-6.2ZM800.33 263.1h6.2v6.2h-6.2ZM804.86 251h6.2v6.2h-6.2ZM809.38 252.1h6.2v6.2h-6.2ZM813.9 266.2h6.2v6.2h-6.2ZM818.43 281.9h6.2v6.2h-6.2ZM822.95 286.9h6.2v6.2h-6.2ZM827.47 279.9h6.2v6.2h-6.2ZM831.99 267.5h6.2v6.2h-6.2ZM836.52 254.4h6.2v6.2h-6.2ZM841.04 249.8h6.2v6.2h-6.2ZM845.56 256.4h6.2v6.2h-6.2ZM850.09 267.5h6.2v6.2h-6.2ZM854.61 279.9h6.2v6.2h-6.2ZM859.13 284.9h6.2v6.2h-6.2ZM863.66 283.9h6.2v6.2h-6.2ZM868.18 276.9h6.2v6.2h-6.2ZM872.7 270.5h6.2v6.2h-6.2ZM877.22 266.5h6.2v6.2h-6.2ZM881.75 264.6h6.2v6.2h-6.2ZM886.27 264.6h6.2v6.2h-6.2ZM890.79 263.9h6.2v6.2h-6.2ZM895.32 263h6.2v6.2h-6.2ZM899.84 262h6.2v6.2h-6.2ZM904.36 262.3h6.2v6.2h-6.2ZM908.89 265h6.2v6.2h-6.2ZM913.41 269h6.2v6.2h-6.2Z" fill="#00ffff"/>
<path d="M88.3 272.8h1v1h-1ZM92.82 272.8h1v1h-1ZM97.35 272.8h1v1h-1ZM101.87 272.8h1v1h-1ZM106.39 272.8h1v1h-1ZM110.91 272.5h1v1h-1ZM115.44 272.2h1v1h-1ZM119.96 271.8h1v1h-1ZM124.48 271.9h1v1h-1ZM129.01 273.2h1v1h-1ZM133.53 276.5h1v1h-1ZM138.05 280h1v1h-1ZM142.58 283.7h1v1h-1ZM147.1 282.6h1v1h-1ZM151.62 275.5h1v1h-1ZM156.14 265.3h1v1h-1ZM160.67 261.3h1v1h-1ZM165.19 266.6h1v1h-1ZM169.71 277.9h1v1h-1ZM174.24 286.5h1v1h-1ZM178.76 287.6h1v1h-1ZM183.28 279h1v1h-1ZM187.81 264.4h1v1h-1ZM192.33 246.7h1v1h-1ZM196.85 233.8h1v1h-1ZM201.38 230.9h1v1h-1ZM205.9 237.8h1v1h-1ZM210.42 244.7h1v1h-1ZM214.94 243.5h1v1h-1ZM219.47 240.7h1v1h-1ZM223.99 256h1v1h-1ZM228.51 305.1h1v1h-1ZM233.04 375.8h1v1h-1ZM237.56 426.1h1v1h-1ZM242.08 413h1v1h-1ZM246.6 321.4h1v1h-1ZM251.13 186.7h1v1h-1ZM255.65 76.3h1v1h-1ZM260.17 51.3h1v1h-1ZM264.7 135.8h1v1h-1ZM269.22 291.2h1v1h-1ZM273.74 441.1h1v1h-1ZM278.27 517.9h1v1h-1ZM282.79 501.2h1v1h-1ZM287.31 415.6h1v1h-1ZM291.83 307.7h1v1h-1ZM296.36 212h1v1h-1ZM300.88 142.1h1v1h-1ZM305.4 104.5h1v1h-1ZM309.93 103.4h1v1h-1ZM314.45 137.7h1v1h-1ZM318.97 199.4h1v1h-1ZM323.5 269h1v1h-1ZM328.02 326.4h1v1h-1ZM332.54 355.6h1v1h-1ZM337.06 348.8h1v1h-1ZM341.59 312.5h1v1h-1ZM346.11 268.3h1v1h-1ZM350.63 245h1v1h-1ZM355.16 253.7h1v1h-1ZM359.68 282.1h1v1h-1ZM364.2 302.6h1v1h-1ZM368.73 297.7h1v1h-1ZM373.25 277.7h1v1h-1ZM377.77 267.9h1v1h-1ZM382.3 285h1v1h-1ZM386.82 313.6h1v1h-1ZM391.34 323.4h1v1h-1ZM395.86 300h1v1h-1ZM400.39 250.5h1v1h-1ZM404.91 206.2h1v1h-1ZM409.43 190.7h1v1h-1ZM413.96 215.5h1v1h-1ZM418.48 269h1v1h-1ZM423 329.7h1v1h-1ZM427.52 364.4h1v1h-1ZM432.05 357.1h1v1h-1ZM436.57 317.3h1v1h-1ZM441.09 266.3h1v1h-1ZM445.62 222.6h1v1h-1ZM450.14 191.5h1v1h-1ZM454.66 173.1h1v1h-1ZM459.19 173.1h1v1h-1ZM463.71 199.2h1v1h-1ZM468.23 251.3h1v1h-1ZM472.75 317.5h1v1h-1ZM477.28 373.1h1v1h-1ZM481.8 397.2h1v1h-1ZM486.32 378.3h1v1h-1ZM490.85 324.2h1v1h-1ZM495.37 254.7h1v1h-1ZM499.89 197.1h1v1h-1ZM504.42 170.7h1v1h-1ZM508.94 185.4h1v1h-1ZM513.46 235.4h1v1h-1ZM517.98 298.8h1v1h-1ZM522.51 348.4h1v1h-1ZM527.03 365.5h1v1h-1ZM531.55 345.7h1v1h-1ZM536.08 301h1v1h-1ZM540.6 254.5h1v1h-1ZM545.12 221.8h1v1h-1ZM549.65 212.5h1v1h-1ZM554.17 226h1v1h-1ZM558.69 253.3h1v1h-1ZM563.21 278.6h1v1h-1ZM567.74 287.9h1v1h-1ZM572.26 278.1h1v1h-1ZM576.78 254.6h1v1h-1ZM581.31 233.7h1v1h-1ZM585.83 229.6h1v1h-1ZM590.35 245.9h1v1h-1ZM594.88 275h1v1h-1ZM599.4 307h1v1h-1ZM603.92 330.9h1v1h-1ZM608.44 338.6h1v1h-1ZM612.97 325h1v1h-1ZM617.49 291.2h1v1h-1ZM622.01 252.2h1v1h-1ZM626.54 228.5h1v1h-1ZM631.06 235.1h1v1h-1ZM635.58 265.2h1v1h-1ZM640.11 289.5h1v1h-1ZM644.63 299.5h1v1h-1ZM649.15 284.5h1v1h-1ZM653.67 261.6h1v1h-1ZM658.2 235.8h1v1h-1ZM662.72 231h1v1h-1ZM667.24 252h1v1h-1ZM671.77 284.5h1v1h-1ZM676.29 304.5h1v1h-1ZM680.81 299.5h1v1h-1ZM685.34 279.5h1v1h-1ZM689.86 252h1v1h-1ZM694.38 216.2h1v1h-1ZM698.9 204.5h1v1h-1ZM703.43 224.8h1v1h-1ZM707.95 266h1v1h-1ZM712.47 299.5h1v1h-1ZM717 314.5h1v1h-1ZM721.52 304.5h1v1h-1ZM726.04 279.5h1v1h-1ZM730.57 257.4h1v1h-1ZM735.09 244.6h1v1h-1ZM739.61 256.4h1v1h-1ZM744.13 279.5h1v1h-1ZM748.66 294.5h1v1h-1ZM753.18 294.5h1v1h-1ZM757.7 281.5h1v1h-1ZM762.23 266h1v1h-1ZM766.75 238h1v1h-1ZM771.27 226.3h1v1h-1ZM775.8 235.4h1v1h-1ZM780.32 260.4h1v1h-1ZM784.84 284.5h1v1h-1ZM789.36 299.5h1v1h-1ZM793.89 294.5h1v1h-1ZM798.41 281.5h1v1h-1ZM802.93 265.7h1v1h-1ZM807.46 253.6h1v1h-1ZM811.98 254.7h1v1h-1ZM816.5 268.8h1v1h-1ZM821.03 284.5h1v1h-1ZM825.55 289.5h1v1h-1ZM830.07 282.5h1v1h-1ZM834.59 270.1h1v1h-1ZM839.12 257h1v1h-1ZM843.64 252.4h1v1h-1ZM848.16 259h1v1h-1ZM852.69 270.1h1v1h-1ZM857.21 282.5h1v1h-1ZM861.73 287.5h1v1h-1ZM866.26 286.5h1v1h-1ZM870.78 279.5h1v1h-1ZM875.3 273.1h1v1h-1ZM879.82 269.1h1v1h-1ZM884.35 267.2h1v1h-1ZM888.87 267.2h1v1h-1ZM893.39 266.5h1v1h-1ZM897.92 265.6h1v1h-1ZM902.44 264.6h1v1h-1ZM906.96 264.9h1v1h-1ZM911.49 267.6h1v1h-1ZM916.01 271.6h1v1h-1Z" fill="#b0a040" fill-opacity="0.55"/>
<g font-family="Liberation Serif, serif" stroke="#000" stroke-width="0.22" font-size="16" fill="#000"><text x="145.85" y="573.2" text-anchor="middle">1</text><text x="275" y="573.2" text-anchor="middle">2</text><text x="404.15" y="573.2" text-anchor="middle">3</text><text x="533.3" y="573.2" text-anchor="middle">4</text><text x="662.45" y="573.2" text-anchor="middle">5</text><text x="791.6" y="573.2" text-anchor="middle">6</text><text x="920.75" y="573.2" text-anchor="middle">7</text><text x="82.5" y="98.3" text-anchor="end">0.01</text><text x="82.5" y="187.75" text-anchor="end">0.005</text><text x="82.5" y="277.2" text-anchor="end">0</text><text x="82.5" y="366.65" text-anchor="end">-0.005</text><text x="82.5" y="456.1" text-anchor="end">-0.01</text><text x="82.5" y="545.55" text-anchor="end">-0.015</text></g>
<text font-family="Liberation Serif, serif" stroke="#000" stroke-width="0.22" font-size="17" x="519.9" y="596.8" textLength="39.5" lengthAdjust="spacingAndGlyphs" fill="#000">t (ns)</text>
<g transform="translate(23,307.9) rotate(-90)" font-family="Liberation Serif, serif" stroke="#000" stroke-width="0.22" fill="#000"><text x="-0.9" y="0" font-size="17.4" textLength="10.4" lengthAdjust="spacingAndGlyphs">E</text><text x="11" y="-8.7" font-size="12.5">r</text><text x="10.3" y="9" font-size="14.5" textLength="35.2" lengthAdjust="spacingAndGlyphs">MUT</text></g>
<rect x="626.5" y="273.3" width="349" height="241.1" fill="#fff"/>
<g stroke="#dcdcdc" stroke-width="1" stroke-dasharray="4.86 4.86" fill="none"><line x1="650" y1="514.4" x2="650" y2="273.3" stroke-dashoffset="0"/><line x1="728.4" y1="514.4" x2="728.4" y2="273.3" stroke-dashoffset="0"/><line x1="806.9" y1="514.4" x2="806.9" y2="273.3" stroke-dashoffset="0"/><line x1="885.4" y1="514.4" x2="885.4" y2="273.3" stroke-dashoffset="0"/><line x1="963.9" y1="514.4" x2="963.9" y2="273.3" stroke-dashoffset="0"/><line x1="626.5" y1="299.4" x2="975.5" y2="299.4" stroke-dashoffset="6.2"/><line x1="626.5" y1="355" x2="975.5" y2="355" stroke-dashoffset="6.2"/><line x1="626.5" y1="410.7" x2="975.5" y2="410.7" stroke-dashoffset="6.2"/><line x1="626.5" y1="466.3" x2="975.5" y2="466.3" stroke-dashoffset="6.2"/></g>
<path d="M650 514.4v-3.7M650 273.3v3.7M728.4 514.4v-3.7M728.4 273.3v3.7M806.9 514.4v-3.7M806.9 273.3v3.7M885.4 514.4v-3.7M885.4 273.3v3.7M963.9 514.4v-3.7M963.9 273.3v3.7M626.5 299.4h3.7M975.5 299.4h-3.7M626.5 355h3.7M975.5 355h-3.7M626.5 410.7h3.7M975.5 410.7h-3.7M626.5 466.3h3.7M975.5 466.3h-3.7" stroke="#262626" stroke-width="1.3" fill="none"/>
<rect x="626.5" y="273.3" width="349" height="241.1" fill="none" stroke="#262626" stroke-width="1.3"/>
<defs><clipPath id="iclip"><rect x="626.5" y="273.3" width="349" height="241.1"/></clipPath></defs>
<g clip-path="url(#iclip)" fill="none" stroke-width="2.0">
<polyline points="600,209.61 806.9,389.2 978.5,356.08" stroke="#77ac30" stroke-dasharray="2 2.8"/>
<path d="M806.9 383.7L810.6 388.6L806.9 393.5L803.2 388.6Z" fill="#77ac30" stroke="none"/>
<polyline points="600,211.41 806.9,391 978.5,357.88" stroke="#000"/>
<polyline points="600,211.41 806.9,391 978.5,357.88" stroke="#ff0000" stroke-width="2.6" stroke-linecap="round" stroke-dasharray="0.01 4.86" stroke-dashoffset="3.32"/>
<polyline points="600,217.91 806.9,397.5 978.5,364.38" stroke="#0000ff" stroke-dasharray="9.2 10.1" stroke-dashoffset="11.46"/>
<polyline points="600,223.91 806.9,403.5 978.5,370.38" stroke="#00ff00"/>
<polyline points="600,243.71 806.9,423.3 978.5,390.18" stroke="#ff00ff"/>
<circle cx="806.9" cy="423.3" r="3.2" fill="#ff00ff" stroke="none"/>
<polyline points="600,255.51 806.9,435.1 978.5,401.98" stroke="#edb120" stroke-dasharray="2.2 2.5"/>
<path d="M810.1 435.1L808.5 434.18L808.5 432.33L806.9 433.25L805.3 432.33L805.3 434.18L803.7 435.1L805.3 436.02L805.3 437.87L806.9 436.95L808.5 437.87L808.5 436.02Z" fill="#edb120" stroke="none"/>
<polyline points="600,280.21 806.9,459.8 978.5,426.68" stroke="#808080" stroke-dasharray="9.2 10" stroke-dashoffset="3.71"/>
<path d="M806.9 455.4L811.75 462.3L802.05 462.3Z" fill="#808080" stroke="none"/>
<polyline points="600,296.31 806.9,475.9 978.5,442.78" stroke="#00ffff" stroke-dasharray="2.2 2.5"/>
<path d="M803.9 472.9h6v6h-6Z" fill="#00ffff" stroke="none"/>
</g>
<g font-family="Liberation Serif, serif" stroke="#000" stroke-width="0.22" font-size="16" fill="#000"><text x="650" y="533.7" text-anchor="middle">2.02996</text><text x="728.4" y="533.7" text-anchor="middle">2.02998</text><text x="806.9" y="533.7" text-anchor="middle">2.03</text><text x="885.4" y="533.7" text-anchor="middle">2.03002</text><text x="963.9" y="533.7" text-anchor="middle">2.03004</text><text x="621" y="303.3" text-anchor="end">-0.01371</text><text x="621" y="358.9" text-anchor="end">-0.013712</text><text x="621" y="414.6" text-anchor="end">-0.013714</text><text x="621" y="470.2" text-anchor="end">-0.013716</text></g>
<rect x="889.5" y="24" width="96" height="185.4" fill="#fff" stroke="#262626" stroke-width="1.3"/>
<g font-family="Liberation Serif, serif" stroke="#000" stroke-width="0.22" font-size="14" fill="#000"><line x1="891.9" y1="35.3" x2="915.9" y2="35.3" stroke="#77ac30" stroke-width="2" stroke-dasharray="2 3"/><path d="M903.9 30.4L907.6 35.3L903.9 40.2L900.2 35.3Z" fill="#77ac30"/><text x="917.6" y="38.6">25</text><text x="936.2" y="38.6" textLength="38" lengthAdjust="spacingAndGlyphs">mg/dl</text><line x1="891.9" y1="55.64" x2="915.9" y2="55.64" stroke="#000" stroke-width="2"/><text x="917.6" y="58.94">50</text><text x="936.2" y="58.94" textLength="38" lengthAdjust="spacingAndGlyphs">mg/dl</text><line x1="891.9" y1="75.98" x2="915.9" y2="75.98" stroke="#ff0000" stroke-width="2" stroke-dasharray="2 3"/><text x="917.6" y="79.28">100</text><text x="944.1" y="79.28" textLength="38" lengthAdjust="spacingAndGlyphs">mg/dl</text><line x1="891.9" y1="96.32" x2="915.9" y2="96.32" stroke="#0000ff" stroke-width="2" stroke-dasharray="9.2 10.1"/><text x="917.6" y="99.62">150</text><text x="944.1" y="99.62" textLength="38" lengthAdjust="spacingAndGlyphs">mg/dl</text><line x1="891.9" y1="116.66" x2="915.9" y2="116.66" stroke="#00ff00" stroke-width="2"/><text x="917.6" y="119.96">200</text><text x="944.1" y="119.96" textLength="38" lengthAdjust="spacingAndGlyphs">mg/dl</text><line x1="891.9" y1="137" x2="915.9" y2="137" stroke="#ff00ff" stroke-width="2"/><circle cx="903.9" cy="137" r="3.3" fill="#ff00ff"/><text x="917.6" y="140.3">250</text><text x="944.1" y="140.3" textLength="38" lengthAdjust="spacingAndGlyphs">mg/dl</text><line x1="891.9" y1="157.34" x2="915.9" y2="157.34" stroke="#edb120" stroke-width="2" stroke-dasharray="2 3"/><path d="M903.9 157.34L903.9 153.94M903.9 157.34L900.96 155.64M903.9 157.34L900.96 159.04M903.9 157.34L903.9 160.74M903.9 157.34L906.84 159.04M903.9 157.34L906.84 155.64" stroke="#edb120" stroke-width="2"/><text x="917.6" y="160.64">300</text><text x="944.1" y="160.64" textLength="38" lengthAdjust="spacingAndGlyphs">mg/dl</text><line x1="891.9" y1="177.68" x2="915.9" y2="177.68" stroke="#808080" stroke-width="2" stroke-dasharray="9.8 9.5"/><path d="M903.9 172.18L908.7 180.48L899.1 180.48Z" fill="#808080"/><text x="917.6" y="180.98">350</text><text x="944.1" y="180.98" textLength="38" lengthAdjust="spacingAndGlyphs">mg/dl</text><line x1="891.9" y1="198.02" x2="915.9" y2="198.02" stroke="#00ffff" stroke-width="2" stroke-dasharray="2 3"/><path d="M901 195.12h5.8v5.8h-5.8Z" fill="#00ffff"/><text x="917.6" y="201.32">400</text><text x="944.1" y="201.32" textLength="38" lengthAdjust="spacingAndGlyphs">mg/dl</text></g>
</svg>
</body></html>
